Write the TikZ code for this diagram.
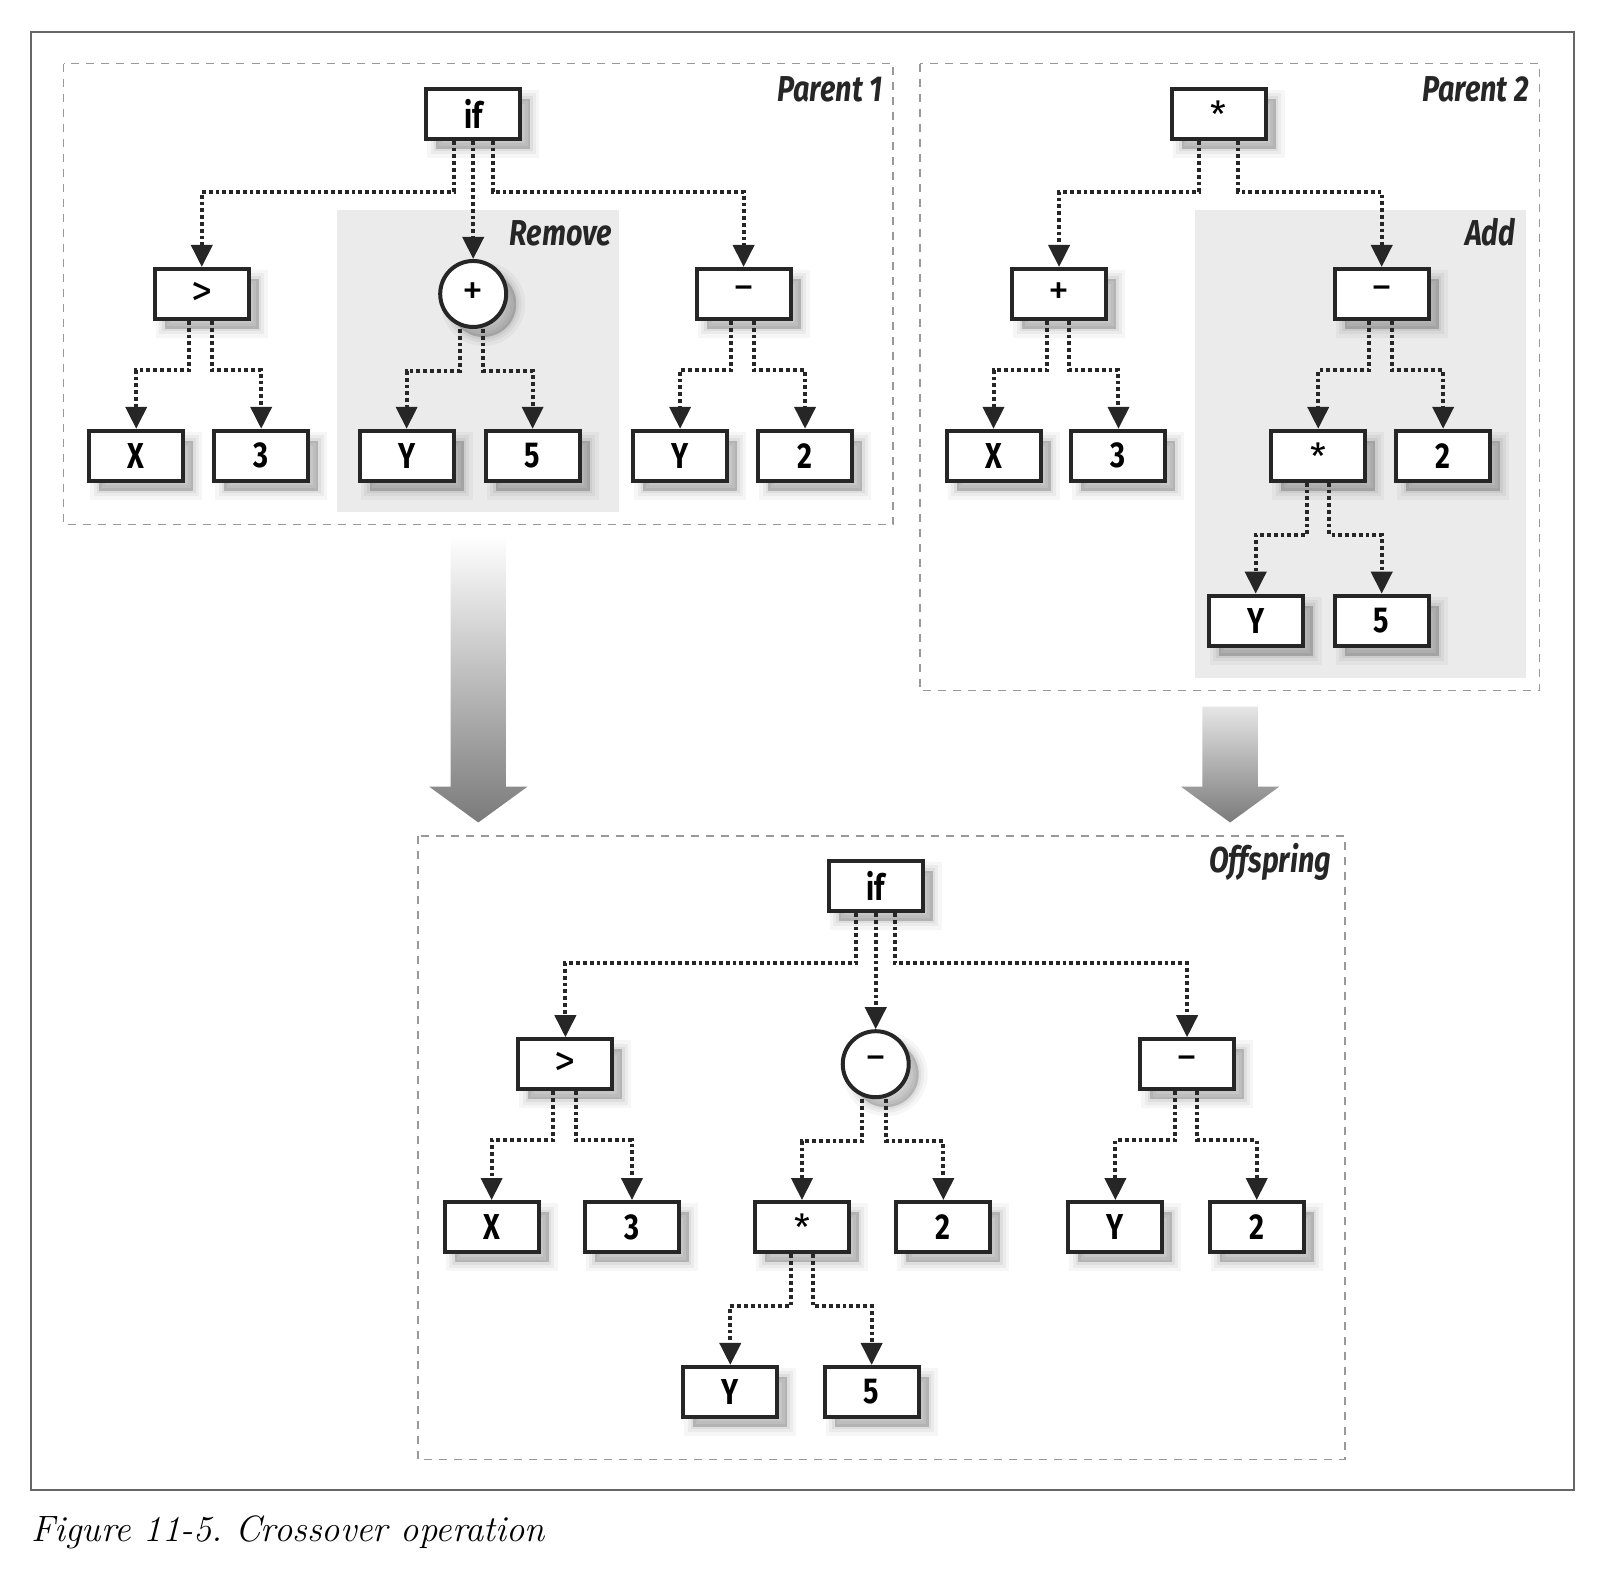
\documentclass[tikz,border=0pt]{standalone}
\usepackage{fontspec}
\newfontfamily\labfont[FakeStretch=0.8]{Fira Sans}
\newfontfamily\opfont{Fira Sans}
\usetikzlibrary{arrows.meta,calc,shadows}
\tikzset{
  softshadow/.style={
    general shadow={fill=black, draw=black, line width=9pt, opacity=0.035, shadow xshift=5pt, shadow yshift=-5pt},
    general shadow={fill=black, draw=black, line width=5.5pt, opacity=0.045, shadow xshift=5pt, shadow yshift=-5pt},
    general shadow={fill=black, draw=black, line width=2.5pt, opacity=0.055, shadow xshift=5pt, shadow yshift=-5pt},
    general shadow={fill=black, draw=none, opacity=0.08, shadow xshift=5pt, shadow yshift=-5pt}},
  nodebase/.style={draw=black!85, line width=2pt, fill=white, inner sep=0pt, softshadow},
  box/.style={nodebase, minimum width=47pt, minimum height=25pt,
    font=\labfont\fontsize{18}{20}\selectfont\bfseries},
  opbox/.style={nodebase, minimum width=47pt, minimum height=25pt,
    font=\opfont\fontsize{21}{24}\selectfont},
  circ/.style={nodebase, circle, minimum size=33pt,
    font=\opfont\fontsize{21}{24}\selectfont},
  starfont/.style={font=\opfont\fontsize{18}{20}\selectfont},
  conn/.style={draw=black!85, line width=2pt, dash pattern=on 1.9pt off 1.5pt,
    -{Triangle[length=11pt,width=10.5pt]}},
  region/.style={draw=black!40, line width=0.8pt, dash pattern=on 4pt off 3.5pt},
  graybg/.style={fill=black!8},
  tag/.style={anchor=base east, font=\labfont\fontsize{18}{20}\selectfont\bfseries\itshape, text=black!85, inner sep=0pt},
  bigarrow/.style={bottom color=black!52}
}
\begin{document}
\begin{tikzpicture}[x=0.5121pt, y=-0.5121pt]
\useasboundingbox (0,0) rectangle (1568,1531);
% outer frame
\draw[black!60, line width=1pt] (30,31) rectangle (1537,1455);
% grey areas
\fill[graybg] (329,205) rectangle (604,500);
\fill[graybg] (1167,205) rectangle (1490,662);
% dashed regions
\draw[region] (62,62) rectangle (872,512);
\draw[region] (898,62) rectangle (1503,674);
\draw[region] (408,816) rectangle (1313,1425);
% labels
\node[tag] (t1) at (862,99) {Parent 1};
\node[tag] (t2) at (1493,99) {Parent 2};
\node[tag] (t3) at (598,240) {Remove};
\node[tag] (t4) at (1480,240) {Add};
\node[tag] (t5) at (1300,852) {Offspring};
% big arrows
\shade[bigarrow, top color=white] (440,522) -- (494,522) -- (494,768) -- (515,768) -- (467,803) -- (419,768) -- (440,768) -- cycle;
\shade[bigarrow, top color=black!10] (1174,690) -- (1228,690) -- (1228,768) -- (1249,768) -- (1201,803) -- (1153,768) -- (1174,768) -- cycle;
% Parent 1
\node[box] (a) at (462,111) {if};
\node[opbox] (agt) at (197,287) {>};
\node[circ] (aplus) at (462,287) {+};
\node[opbox] (amin) at (726,287) {−};
\node[box] (ax) at (133,445) {X};
\node[box] (a3) at (255,445) {3};
\node[box] (ay) at (397,445) {Y};
\node[box] (a5) at (520,445) {5};
\node[box] (ay2) at (664,445) {Y};
\node[box] (a2) at (786,445) {2};
\draw[conn] ($(a.south)+(-19,0)$) -- ++(0,50) -| (agt.north);
\draw[conn] (a.south) -- (aplus.north);
\draw[conn] ($(a.south)+(19,0)$) -- ++(0,50) -| (amin.north);
\draw[conn] ($(agt.south)+(-12,0)$) -- ++(0,48) -| (ax.north);
\draw[conn] ($(agt.south)+(10,0)$) -- ++(0,48) -| (a3.north);
\draw[conn] ($(aplus.south)+(-13,0)$) -- ++(0,41) -| (ay.north);
\draw[conn] ($(aplus.south)+(10,0)$) -- ++(0,41) -| (a5.north);
\draw[conn] ($(amin.south)+(-12,0)$) -- ++(0,48) -| (ay2.north);
\draw[conn] ($(amin.south)+(10,0)$) -- ++(0,48) -| (a2.north);
% Parent 2
\node[opbox, starfont] (b) at (1190,111) {*};
\node[opbox] (bplus) at (1034,287) {+};
\node[opbox] (bmin) at (1349,287) {−};
\node[box] (bx) at (970,445) {X};
\node[box] (b3) at (1092,445) {3};
\node[opbox, starfont] (bstar) at (1287,445) {*};
\node[box] (b2) at (1409,445) {2};
\node[box] (by) at (1226,606) {Y};
\node[box] (b5) at (1349,606) {5};
\draw[conn] ($(b.south)+(-19,0)$) -- ++(0,50) -| (bplus.north);
\draw[conn] ($(b.south)+(19,0)$) -- ++(0,50) -| (bmin.north);
\draw[conn] ($(bplus.south)+(-12,0)$) -- ++(0,48) -| (bx.north);
\draw[conn] ($(bplus.south)+(10,0)$) -- ++(0,48) -| (b3.north);
\draw[conn] ($(bmin.south)+(-12,0)$) -- ++(0,48) -| (bstar.north);
\draw[conn] ($(bmin.south)+(10,0)$) -- ++(0,48) -| (b2.north);
\draw[conn] ($(bstar.south)+(-11,0)$) -- ++(0,51) -| (by.north);
\draw[conn] ($(bstar.south)+(11,0)$) -- ++(0,51) -| (b5.north);
% Offspring
\node[box] (c) at (855,865) {if};
\node[opbox] (cgt) at (552,1039) {>};
\node[circ] (cmin) at (855,1039) {−};
\node[opbox] (cmin2) at (1159,1039) {−};
\node[box] (cx) at (480,1198) {X};
\node[box] (c3) at (617,1198) {3};
\node[opbox, starfont] (cstar) at (783,1198) {*};
\node[box] (c2) at (921,1198) {2};
\node[box] (cy) at (1089,1198) {Y};
\node[box] (c22) at (1227,1198) {2};
\node[box] (cy2) at (713,1359) {Y};
\node[box] (c5) at (851,1359) {5};
\draw[conn] ($(c.south)+(-19,0)$) -- ++(0,49) -| (cgt.north);
\draw[conn] (c.south) -- (cmin.north);
\draw[conn] ($(c.south)+(19,0)$) -- ++(0,49) -| (cmin2.north);
\draw[conn] ($(cgt.south)+(-12,0)$) -- ++(0,48) -| (cx.north);
\draw[conn] ($(cgt.south)+(10,0)$) -- ++(0,48) -| (c3.north);
\draw[conn] ($(cmin.south)+(-13,0)$) -- ++(0,41) -| (cstar.north);
\draw[conn] ($(cmin.south)+(10,0)$) -- ++(0,41) -| (c2.north);
\draw[conn] ($(cmin2.south)+(-12,0)$) -- ++(0,48) -| (cy.north);
\draw[conn] ($(cmin2.south)+(10,0)$) -- ++(0,48) -| (c22.north);
\draw[conn] ($(cstar.south)+(-11,0)$) -- ++(0,51) -| (cy2.north);
\draw[conn] ($(cstar.south)+(11,0)$) -- ++(0,51) -| (c5.north);
% caption
\node[anchor=base west, inner sep=0pt, font=\fontsize{18.3}{22}\selectfont\itshape\frenchspacing] (cap) at (30,1505) {Figure 11-5. Crossover operation};
\end{tikzpicture}
\end{document}
